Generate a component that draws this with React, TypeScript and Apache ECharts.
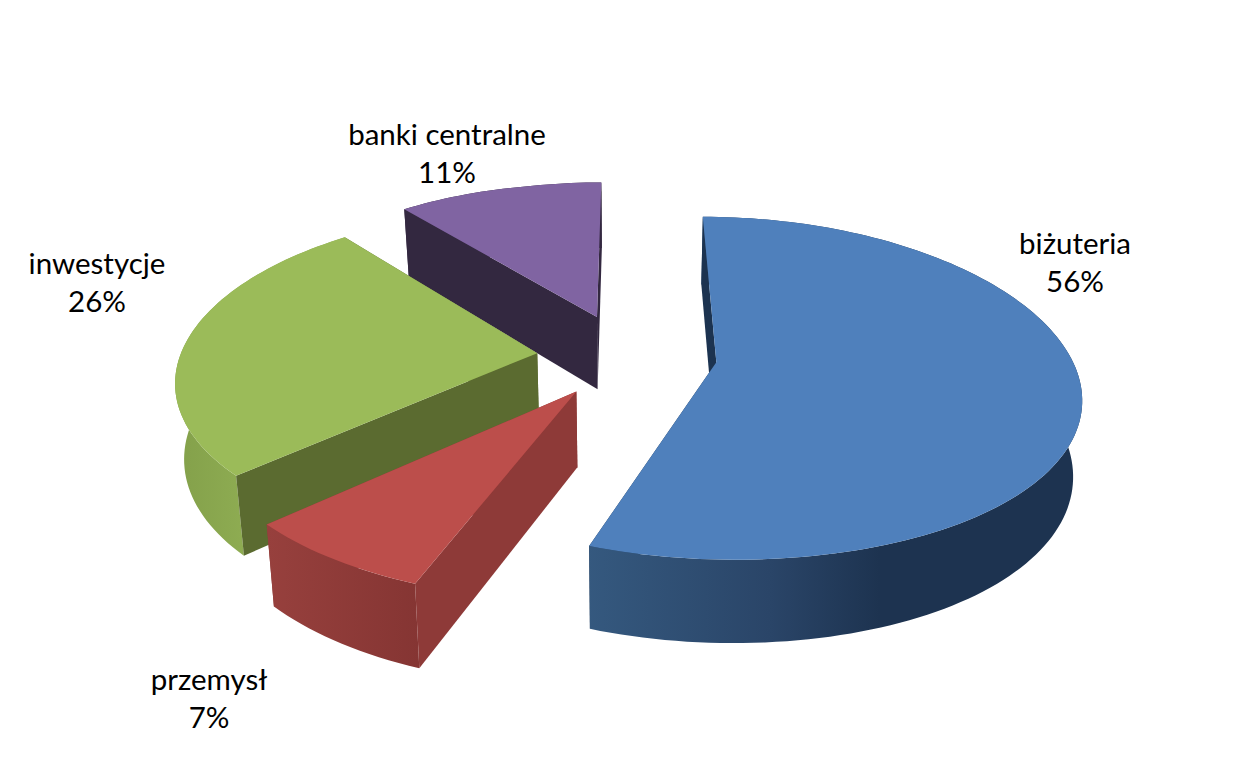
import React, { useEffect, useRef } from "react";
import * as echarts from "echarts";

const categories = ["biżuteria", "przemysł", "inwestycje", "banki centralne"];
const shares = [55.5, 7.2, 26, 11.3];
const paintOrder = [3, 0, 2, 1];

const topColors = ["#4F80BC", "#BC4E4B", "#9BBB59", "#8064A2"];
const cutColors = ["#1C3350", "#8E3A38", "#5B6B30", "#332840"];
const wallColors = [
  [[585, "#35597F"], [770, "#2A4568"], [880, "#1D3350"], [1082, "#1D3350"]],
  [[268, "#97403D"], [420, "#853533"]],
  [[175, "#83A04A"], [245, "#8EAC52"]],
  [[400, "#332840"], [600, "#332840"]],
];
const labelAnchors = [
  [1075, 261],
  [209, 697],
  [97, 281],
  [447, 152],
];

const CX = 627;
const CY = 355;
const R = 354;
const EXPLODE = 90;
const SQUASH = 0.467;
const PERSP = 0.000425;
const PERSP_X = 0.0005;
const DEPTH = 74;
const DEPTH_PERSP = 0.7;
const BOTTOM_SHRINK = 0.98;
const LEFT_TILT = 0.02;
const LEFT_TILT_FROM = -100;

type P = [number, number];

function project(X: number, V: number, bottom: boolean): P {
  const w = 1 / (1 - PERSP * V);
  const sx = X / (1 - PERSP_X * V);
  const sy = SQUASH * V * w + LEFT_TILT * Math.min(0, sx - LEFT_TILT_FROM);
  if (bottom) return [CX + sx * BOTTOM_SHRINK, CY + sy + DEPTH * Math.pow(w, DEPTH_PERSP)];
  return [CX + sx, CY + sy];
}

const total = shares.reduce((a, b) => a + b, 0);

function renderSlice(_params: any, api: any) {
  const idx = api.value(0) as number;
  const before = shares.slice(0, idx).reduce((a, b) => a + b, 0);
  const a0 = (before / total) * Math.PI * 2;
  const a1 = ((before + (api.value(1) as number)) / total) * Math.PI * 2;
  const mid = (a0 + a1) / 2;
  const ox = Math.sin(mid) * EXPLODE;
  const ov = -Math.cos(mid) * EXPLODE;
  const rim = (a: number, b: boolean) => project(ox + R * Math.sin(a), ov - R * Math.cos(a), b);

  const steps = Math.max(6, Math.round((a1 - a0) / (Math.PI / 120)));
  const topRim: P[] = [];
  const botRim: P[] = [];
  for (let i = 0; i <= steps; i++) {
    const a = a0 + ((a1 - a0) * i) / steps;
    topRim.push(rim(a, false));
    botRim.push(rim(a, true));
  }
  const apexT = project(ox, ov, false);
  const apexB = project(ox, ov, true);

  const stops = wallColors[idx] as [number, string][];
  const x0 = stops[0][0];
  const x1 = stops[stops.length - 1][0];
  const wallFill = new echarts.graphic.LinearGradient(
    x0, 0, x1, 0,
    stops.map(([x, color]) => ({ offset: (x - x0) / (x1 - x0), color })),
    true
  );

  const poly = (points: P[], fill: any) => ({
    type: "polygon",
    shape: { points },
    style: { fill },
    silent: true,
  });

  return {
    type: "group",
    children: [
      poly([apexT, topRim[steps], botRim[steps], apexB], cutColors[idx]),
      poly([...topRim, ...botRim.slice().reverse()], wallFill),
      poly([apexT, topRim[0], botRim[0], apexB], cutColors[idx]),
      poly([apexT, ...topRim], topColors[idx]),
    ],
  };
}

export default function App() {
  const ref = useRef<HTMLDivElement>(null);
  useEffect(() => {
    const chart = echarts.init(ref.current!, null, { renderer: "svg" });
    chart.setOption({
      animation: false,
      backgroundColor: "#ffffff",
      series: [
        {
          type: "custom",
          coordinateSystem: "none",
          silent: true,
          renderItem: renderSlice,
          data: paintOrder.map((i) => [i, shares[i]]),
        },
      ],
      graphic: categories.map((name, i) => ({
        type: "text",
        x: labelAnchors[i][0],
        y: labelAnchors[i][1],
        silent: true,
        style: {
          text: `${name}\n${Math.round(shares[i])}%`,
          fill: "#000000",
          font: "29.5px Lato",
          lineHeight: 38,
          align: "center",
          verticalAlign: "middle",
        },
      })),
    });
    return () => chart.dispose();
  }, []);
  return <div ref={ref} style={{ position: "absolute", left: 0, top: 0, width: 1246, height: 776 }} />;
}
